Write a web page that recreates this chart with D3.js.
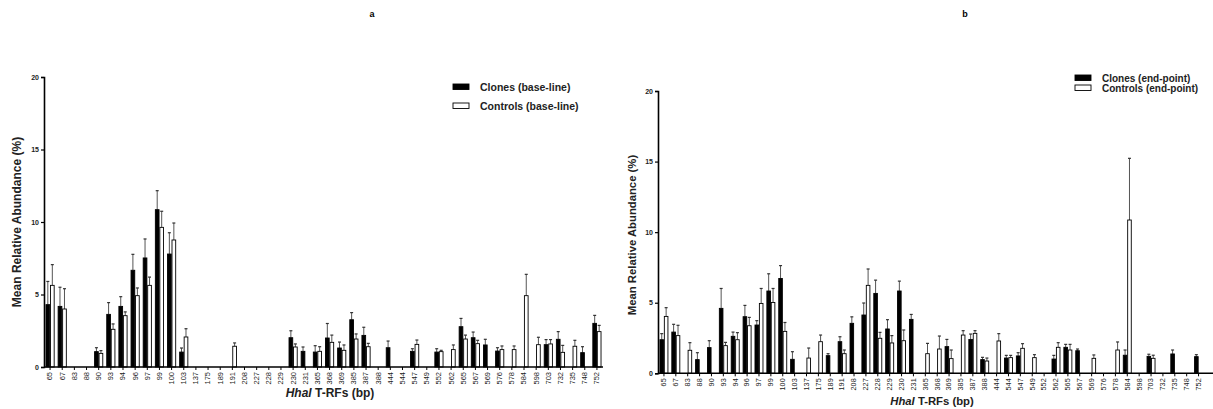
<!DOCTYPE html>
<html><head><meta charset="utf-8">
<script src="https://cdn.jsdelivr.net/npm/d3@7"></script>
<style>
body{margin:0;background:#fff;}
svg{display:block;font-family:Arial,"Liberation Sans",sans-serif;}
</style></head>
<body><svg id="chart" width="1213" height="409"></svg>
<script>
const categories = ["65","67","83","88","90","93","94","96","97","99","100","103","137","175","189","191","208","227","228","229","230","231","365","368","369","385","387","388","444","544","547","549","552","562","565","567","569","576","578","584","598","703","732","735","748","752"];
const yTicks = [0,5,10,15,20];

// Panel a (base-line): means and SEM
const aClones    = [4.30,4.18,0,0,1.06,3.63,4.18,6.67,7.52,10.85,7.79,1.03,0,0,0,0,0,0,0,0,2.02,1.08,1.03,2.00,1.31,3.26,2.18,0,1.33,0,1.08,0,1.03,0,2.78,2.02,1.52,1.10,0,0,0,1.54,1.91,0,0.99,3.01];
const aClonesErr = [1.60,1.32,0,0,0.27,0.81,0.67,1.10,1.31,1.31,1.47,0.28,0,0,0,0,0,0,0,0,0.48,0.30,0.44,1.00,0.41,0.49,0.56,0,0.46,0,0.18,0,0.23,0,0.57,0.39,0.39,0.23,0,0,0,0.35,0.53,0,0.41,0.55];
const aControls    = [5.63,4.00,0,0,0.94,2.60,3.54,4.92,5.63,9.63,8.76,2.07,0,0,0,1.43,0,0,0,0,1.38,0,1.08,1.70,1.15,1.93,1.40,0,0,0,1.56,0,1.06,1.20,1.93,1.61,0,1.20,1.20,4.92,1.54,1.59,1.01,1.43,0,2.44];
const aControlsErr = [1.43,1.40,0,0,0.19,0.37,0.26,0.53,0.57,1.11,1.17,0.57,0,0,0,0.23,0,0,0,0,0.21,0,0.32,0.50,0.37,0.35,0.23,0,0,0,0.30,0,0.09,0.32,0.27,0.23,0,0.25,0.25,1.47,0.51,0.30,0.48,0.41,0,0.43];

// Panel b (end-point): means and SEM
const bClones    = [2.38,2.92,0,0.97,1.82,4.60,2.62,4.01,3.42,5.83,6.72,0.99,0,0,1.25,2.24,3.54,4.13,5.66,3.14,5.83,3.82,0,0,1.89,0,2.40,0.97,0,1.08,1.23,0,0,1.01,1.84,1.60,0,0,0,1.28,0,1.20,0,1.37,0,1.18];
const bClonesErr = [0.43,0.55,0,0.49,0.49,1.41,0.30,0.80,0.31,1.22,0.91,0.54,0,0,0.14,0.35,0.46,0.85,0.94,0.66,0.70,0.35,0,0,0.51,0,0.38,0.16,0,0.19,0.23,0,0,0.26,0.21,0.12,0,0,0,0.37,0,0.15,0,0.28,0,0.14];
const bControls    = [4.03,2.67,1.63,0,0,1.96,2.38,3.37,4.95,5.02,2.97,0,1.08,2.24,0,1.39,0,6.23,2.48,2.15,2.31,0,1.39,1.72,1.04,2.71,2.83,0.87,2.29,1.11,1.77,1.11,0,1.84,1.65,0,1.06,0,1.65,10.86,0,1.06,0,0,0,0];
const bControlsErr = [0.62,0.73,0.54,0,0,0.23,0.50,0.59,1.06,0.99,0.63,0,0.71,0.47,0,0.26,0,1.16,0.42,0.52,0.76,0,0.73,0.92,0.61,0.31,0.19,0.21,0.52,0.16,0.33,0.21,0,0.33,0.40,0,0.24,0,0.57,4.37,0,0.22,0,0,0,0];

const svg = d3.select("#chart");

function panel(cfg){
  const g = svg.append("g");
  const x = d3.scaleBand().domain(categories).range([cfg.x0, cfg.x1]).paddingInner(0.26).paddingOuter(0.13);
  const sub = d3.scaleBand().domain(["clone","control"]).range([0, x.bandwidth()]);
  const y = d3.scaleLinear().domain([0,20]).range([cfg.y0, cfg.y20]);

  const series = [
    {key:"clone", vals:cfg.clones, errs:cfg.clonesErr, fill:"#000"},
    {key:"control", vals:cfg.controls, errs:cfg.controlsErr, fill:"#fff"}
  ];
  series.forEach(s=>{
    const data = categories.map((c,i)=>({c, v:s.vals[i], e:s.errs[i]})).filter(d=>d.v>0);
    // error bars
    const eg = g.append("g");
    data.forEach(d=>{
      const cx = x(d.c)+sub(s.key)+sub.bandwidth()/2;
      eg.append("line").attr("x1",cx).attr("x2",cx).attr("y1",y(d.v)).attr("y2",y(d.v+d.e))
        .attr("stroke","#555").attr("stroke-width",1);
      eg.append("line").attr("x1",cx-1.5).attr("x2",cx+1.5).attr("y1",y(d.v+d.e)).attr("y2",y(d.v+d.e))
        .attr("stroke","#333").attr("stroke-width",1.2);
    });
    g.append("g").selectAll("rect").data(data).join("rect")
      .attr("x",d=>x(d.c)+sub(s.key)+0.4)
      .attr("width",sub.bandwidth()-0.8)
      .attr("y",d=>y(d.v))
      .attr("height",d=>y(0)-y(d.v))
      .attr("fill",s.fill).attr("stroke","#000").attr("stroke-width",0.9);
  });

  // y axis
  const ya = g.append("g").attr("transform",`translate(${cfg.x0},0)`)
    .call(d3.axisLeft(y).tickValues(yTicks).tickSize(3).tickPadding(2));
  ya.select(".domain").attr("stroke","#000").attr("stroke-width",1.6);
  ya.selectAll(".tick line").attr("stroke","#000").attr("stroke-width",1.2);
  ya.selectAll(".tick text").attr("font-size",cfg.tickFont).attr("font-weight","bold").attr("fill","#222")
    .attr("font-family","Arial, 'Liberation Sans', sans-serif");

  // x axis
  const xa = g.append("g").attr("transform",`translate(0,${cfg.y0})`)
    .call(d3.axisBottom(x).tickSize(3).tickSizeOuter(0).tickPadding(2));
  xa.select(".domain").remove();
  xa.selectAll(".tick line").attr("stroke","#000").attr("stroke-width",1);
  xa.selectAll(".tick text").attr("font-size",cfg.xFont).attr("fill","#222")
    .attr("font-family","Arial, 'Liberation Sans', sans-serif")
    .attr("text-anchor","end").attr("dy","0.32em")
    .attr("transform","translate(0,3) rotate(-90)").attr("x",-2).attr("y",0);
  g.append("line").attr("x1",cfg.x0).attr("x2",cfg.axisEnd).attr("y1",cfg.y0).attr("y2",cfg.y0)
    .attr("stroke","#000").attr("stroke-width",1.6);

  // y title
  g.append("text").attr("transform",`translate(${cfg.ytX},${cfg.ytY}) rotate(-90)`)
    .attr("text-anchor","middle").attr("font-size",cfg.titleFont).attr("font-weight","bold").attr("fill","#222")
    .text("Mean Relative Abundance (%)");
  // x title
  const xt = g.append("text").attr("x",cfg.xtX).attr("y",cfg.xtY).attr("text-anchor","middle")
    .attr("font-size",cfg.titleFont).attr("font-weight","bold").attr("fill","#222");
  xt.append("tspan").attr("font-style","italic").text("HhaI");
  xt.append("tspan").text(" T-RFs (bp)");

  // panel label
  g.append("text").attr("x",cfg.labX).attr("y",17).attr("text-anchor","middle")
    .attr("font-size",9).attr("font-weight","bold").text(cfg.label);

  // legend
  cfg.legend.forEach((L,i)=>{
    const ly = cfg.legY + i*cfg.legGap;
    g.append("rect").attr("x",cfg.legX).attr("y",ly-3).attr("width",16).attr("height",5.5)
      .attr("fill",i===0?"#000":"#fff").attr("stroke","#000").attr("stroke-width",0.9);
    g.append("text").attr("x",cfg.legX+27).attr("y",ly).attr("dy","0.35em")
      .attr("font-size",cfg.legFont).attr("font-weight","bold").attr("fill","#222").text(L);
  });
}

panel({x0:44, x1:603, axisEnd:603, y0:367, y20:77,
  clones:aClones, clonesErr:aClonesErr, controls:aControls, controlsErr:aControlsErr,
  tickFont:7, xFont:7.5, titleFont:12, ytX:21, ytY:222, xtX:330, xtY:397,
  label:"a", labX:372, legX:453, legY:87, legGap:19, legFont:10.5,
  legend:["Clones (base-line)","Controls (base-line)"]});

panel({x0:658, x1:1204.5, axisEnd:1213, y0:373.3, y20:91,
  clones:bClones, clonesErr:bClonesErr, controls:bControls, controlsErr:bControlsErr,
  tickFont:7, xFont:7.3, titleFont:11.3, ytX:636, ytY:235, xtX:932, xtY:405,
  label:"b", labX:965, legX:1075, legY:78, legGap:10, legFont:10,
  legend:["Clones (end-point)","Controls (end-point)"]});
</script></body></html>
